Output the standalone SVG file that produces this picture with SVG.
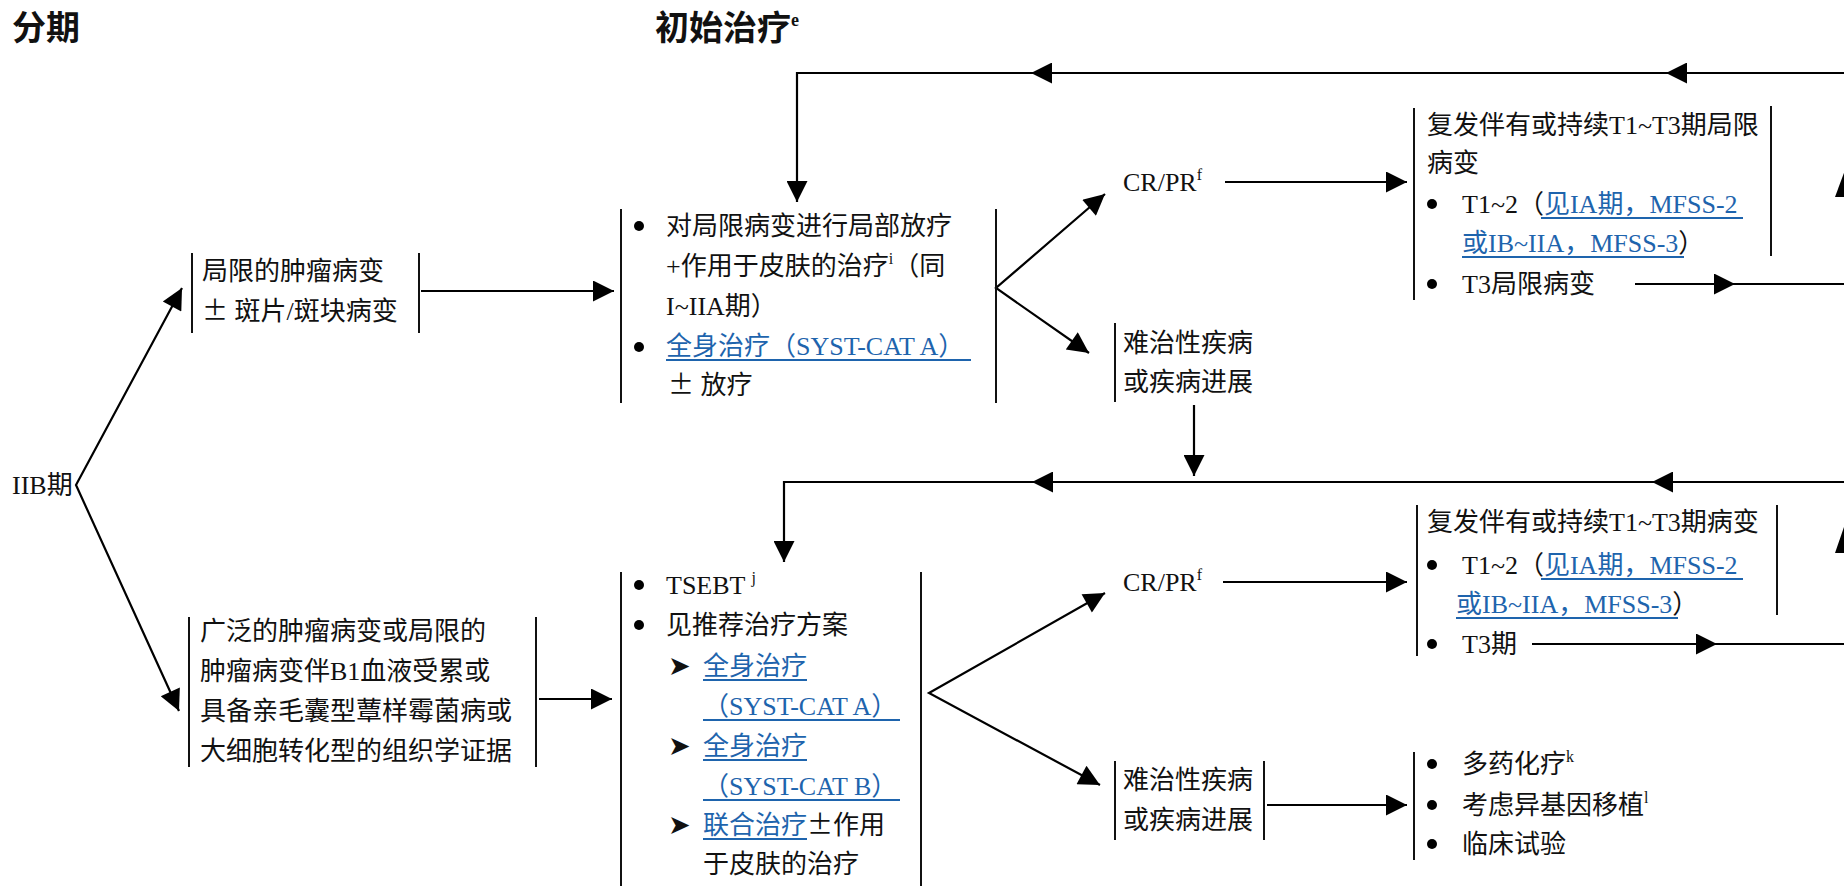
<svg xmlns="http://www.w3.org/2000/svg" width="1844" height="886" viewBox="0 0 1844 886">
<style>
text{font-family:"Liberation Serif","Noto Sans CJK SC",serif;font-size:26px;fill:#111}
.title{font-family:"Liberation Serif","Noto Sans CJK SC",serif;font-size:34px;font-weight:bold}
.blue{fill:#1e64ad}
.sup{font-size:16px}
.pm{font-family:"Noto Sans CJK SC","Liberation Serif",sans-serif}
.arrowhd{font-family:"DejaVu Sans",sans-serif;font-size:27px}
.br{stroke:#111;stroke-width:2;fill:none}
.ul{stroke:#1e64ad;stroke-width:2}
.c{stroke:#000;stroke-width:2.2;fill:none}
.ca{stroke:#000;stroke-width:2.2;fill:none;marker-end:url(#arr)}
.cb{stroke:#000;stroke-width:2.2;fill:none;marker-end:url(#arr);marker-start:url(#arrs)}
.dot{fill:#000}
</style>
<defs>
<marker id="arr" viewBox="0 0 10 10" refX="10" refY="5" markerUnits="userSpaceOnUse" markerWidth="25" markerHeight="21" orient="auto"><path d="M0,0 L10,5 L0,10 z" fill="#000"/></marker>
<marker id="arrs" viewBox="0 0 10 10" refX="10" refY="5" markerUnits="userSpaceOnUse" markerWidth="25" markerHeight="21" orient="auto-start-reverse"><path d="M0,0 L10,5 L0,10 z" fill="#000"/></marker>
</defs>
<rect width="1844" height="886" fill="#fff"/>

<g id="headers">
<text class="title" x="12" y="40">分期</text>
<text class="title" x="655" y="40">初始治疗<tspan style="font-size:18px" dy="-14">e</tspan></text>
</g>

<g id="connectors">
<path class="cb" d="M182,288 L76,485 L179,711"/>
<line class="ca" x1="421" y1="291" x2="614" y2="291"/>
<line class="ca" x1="539" y1="699" x2="612" y2="699"/>
<line class="ca" x1="1850" y1="73" x2="1666" y2="73"/>
<line class="ca" x1="1666" y1="73" x2="1031" y2="73"/>
<path class="ca" d="M1031,73 H797 V202"/>
<path class="cb" d="M1105,194 L996,288 L1089,353"/>
<line class="ca" x1="1225" y1="182" x2="1407" y2="182"/>
<line class="ca" x1="1635" y1="284" x2="1735" y2="284"/>
<line class="c" x1="1735" y1="284" x2="1850" y2="284"/>
<polygon points="1845,170 1835,197 1855,197" fill="#000"/>
<line class="ca" x1="1194" y1="405" x2="1194" y2="476"/>
<line class="ca" x1="1850" y1="482" x2="1652" y2="482"/>
<line class="ca" x1="1652" y1="482" x2="1032" y2="482"/>
<path class="ca" d="M1032,482 H784 V562"/>
<path class="cb" d="M1105,593 L929,693 L1100,785"/>
<line class="ca" x1="1223" y1="582" x2="1407" y2="582"/>
<line class="ca" x1="1532" y1="644" x2="1717" y2="644"/>
<line class="c" x1="1717" y1="644" x2="1850" y2="644"/>
<polygon points="1845,524 1835,553 1855,553" fill="#000"/>
<line class="ca" x1="1267" y1="805" x2="1407" y2="805"/>
</g>

<g id="stage">
<text x="12" y="494">IIB期</text>
</g>

<g id="node-localized">
<line class="br" x1="192" y1="253" x2="192" y2="333"/>
<line class="br" x1="419" y1="253" x2="419" y2="333"/>
<text x="202" y="280">局限的肿瘤病变</text>
<text x="202" y="320"><tspan class="pm">±</tspan> 斑片/斑块病变</text>
</g>

<g id="node-extensive">
<line class="br" x1="189" y1="617" x2="189" y2="767"/>
<line class="br" x1="536" y1="617" x2="536" y2="767"/>
<text x="200" y="640">广泛的肿瘤病变或局限的</text>
<text x="200" y="680">肿瘤病变伴B1血液受累或</text>
<text x="200" y="720">具备亲毛囊型蕈样霉菌病或</text>
<text x="200" y="760">大细胞转化型的组织学证据</text>
</g>

<g id="node-tx1">
<line class="br" x1="621" y1="209" x2="621" y2="403"/>
<line class="br" x1="996" y1="209" x2="996" y2="403"/>
<circle class="dot" cx="639" cy="226" r="5"/>
<text x="666" y="235">对局限病变进行局部放疗</text>
<text x="666" y="275">+作用于皮肤的治疗<tspan class="sup" dy="-11">i</tspan><tspan dy="11">（同</tspan></text>
<text x="666" y="315">I~IIA期）</text>
<circle class="dot" cx="639" cy="347" r="5"/>
<text class="blue" x="666" y="355">全身治疗（SYST-CAT A）</text>
<line class="ul" x1="666" y1="360" x2="971" y2="360"/>
<text x="668" y="394"><tspan class="pm">±</tspan> 放疗</text>
</g>

<g id="node-crpr1">
<text x="1123" y="191">CR/PR<tspan class="sup" dy="-11">f</tspan></text>
</g>

<g id="node-relapse1">
<line class="br" x1="1414" y1="108" x2="1414" y2="300"/>
<line class="br" x1="1771" y1="106" x2="1771" y2="256"/>
<text x="1427" y="134">复发伴有或持续T1~T3期局限</text>
<text x="1427" y="172">病变</text>
<circle class="dot" cx="1432" cy="204" r="5"/>
<text x="1462" y="213">T1~2（<tspan class="blue">见IA期，MFSS-2</tspan></text>
<line class="ul" x1="1541" y1="218" x2="1743" y2="218"/>
<text x="1462" y="252"><tspan class="blue">或IB~IIA，MFSS-3</tspan>）</text>
<line class="ul" x1="1462" y1="257" x2="1684" y2="257"/>
<circle class="dot" cx="1432" cy="284" r="5"/>
<text x="1462" y="293">T3局限病变</text>
</g>

<g id="node-refractory1">
<line class="br" x1="1115" y1="323" x2="1115" y2="402"/>
<text x="1123" y="352">难治性疾病</text>
<text x="1123" y="391">或疾病进展</text>
</g>

<g id="node-tx2">
<line class="br" x1="621" y1="572" x2="621" y2="886"/>
<line class="br" x1="921" y1="572" x2="921" y2="886"/>
<circle class="dot" cx="639" cy="585" r="5"/>
<text x="666" y="594">TSEBT <tspan class="sup" dy="-11">j</tspan></text>
<circle class="dot" cx="639" cy="625" r="5"/>
<text x="666" y="634">见推荐治疗方案</text>
<text class="arrowhd" x="668" y="675">➤</text>
<text class="blue" x="703" y="675">全身治疗</text>
<line class="ul" x1="703" y1="680" x2="807" y2="680"/>
<text class="blue" x="703" y="715">（SYST-CAT A）</text>
<line class="ul" x1="703" y1="720" x2="900" y2="720"/>
<text class="arrowhd" x="668" y="755">➤</text>
<text class="blue" x="703" y="755">全身治疗</text>
<line class="ul" x1="703" y1="760" x2="807" y2="760"/>
<text class="blue" x="703" y="795">（SYST-CAT B）</text>
<line class="ul" x1="703" y1="800" x2="900" y2="800"/>
<text class="arrowhd" x="668" y="834">➤</text>
<text x="703" y="834"><tspan class="blue">联合治疗</tspan><tspan class="pm">±</tspan>作用</text>
<line class="ul" x1="703" y1="839" x2="807" y2="839"/>
<text x="703" y="873">于皮肤的治疗</text>
</g>

<g id="node-crpr2">
<text x="1123" y="591">CR/PR<tspan class="sup" dy="-11">f</tspan></text>
</g>

<g id="node-relapse2">
<line class="br" x1="1417" y1="505" x2="1417" y2="656"/>
<line class="br" x1="1777" y1="505" x2="1777" y2="615"/>
<text x="1427" y="531">复发伴有或持续T1~T3期病变</text>
<circle class="dot" cx="1432" cy="565" r="5"/>
<text x="1462" y="574">T1~2（<tspan class="blue">见IA期，MFSS-2</tspan></text>
<line class="ul" x1="1541" y1="579" x2="1743" y2="579"/>
<text x="1456" y="613"><tspan class="blue">或IB~IIA，MFSS-3</tspan>）</text>
<line class="ul" x1="1456" y1="618" x2="1678" y2="618"/>
<circle class="dot" cx="1432" cy="644" r="5"/>
<text x="1462" y="653">T3期</text>
</g>

<g id="node-refractory2">
<line class="br" x1="1115" y1="761" x2="1115" y2="840"/>
<line class="br" x1="1264" y1="761" x2="1264" y2="840"/>
<text x="1123" y="789">难治性疾病</text>
<text x="1123" y="829">或疾病进展</text>
</g>

<g id="node-options">
<line class="br" x1="1414" y1="752" x2="1414" y2="860"/>
<circle class="dot" cx="1432" cy="764" r="5"/>
<text x="1462" y="773">多药化疗<tspan class="sup" dy="-11">k</tspan></text>
<circle class="dot" cx="1432" cy="805" r="5"/>
<text x="1462" y="814">考虑异基因移植<tspan class="sup" dy="-11">l</tspan></text>
<circle class="dot" cx="1432" cy="844" r="5"/>
<text x="1462" y="853">临床试验</text>
</g>
</svg>
